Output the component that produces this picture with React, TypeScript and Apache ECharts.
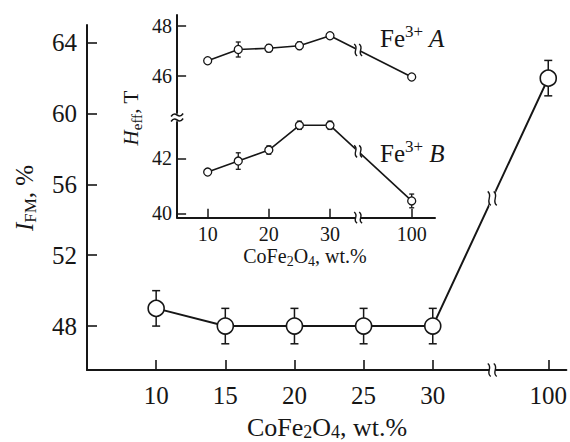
import React, { useEffect, useRef } from 'react';
import * as echarts from 'echarts';

// ---------- data ----------
const mainCategories = [10, 15, 20, 25, 30, 100];
const mainValues = [49, 48, 48, 48, 48, 62];
const mainErrors = [1, 1, 1, 1, 1, 1];
const mainYTicks = [48, 52, 56, 60, 64];

const insetCategories = [10, 15, 20, 25, 30, 100];
const insetXTicks = [10, 20, 30, 100];
const feAValues = [46.6, 47.05, 47.1, 47.2, 47.6, 45.95];
const feAErrors = [0.05, 0.3, 0.15, 0.15, 0.1, 0.1];
const feBValues = [41.5, 41.9, 42.3, 43.2, 43.2, 40.45];
const feBErrors = [0.1, 0.3, 0.15, 0.15, 0.15, 0.25];
const insetUpperTicks = [46, 48];
const insetLowerTicks = [40, 42];

// ---------- broken-axis layout ----------
const MAIN_FAR_POS = 38.35; // axis position of the "100" category (after the break)
const MAIN_BREAK_POS = 34.3;
const INSET_FAR_POS = 43.36;
const INSET_BREAK_POS = 34.6;
const mainPos = (c: number) => (c <= 30 ? c : MAIN_FAR_POS);
const insetPos = (c: number) => (c <= 30 ? c : INSET_FAR_POS);

const INK = '#161616';
const SERIF = "'Liberation Serif', 'Times New Roman', 'DejaVu Serif', serif";

const errorRender = (capHalf: number, lw: number) => (params: any, api: any) => {
  const x = api.value(0);
  const lo = api.value(1);
  const hi = api.value(2);
  const p1 = api.coord([x, lo]);
  const p2 = api.coord([x, hi]);
  const style = { stroke: INK, lineWidth: lw, fill: 'none' };
  return {
    type: 'group',
    children: [
      { type: 'line', shape: { x1: p1[0], y1: p1[1], x2: p2[0], y2: p2[1] }, style },
      { type: 'line', shape: { x1: p1[0] - capHalf, y1: p1[1], x2: p1[0] + capHalf, y2: p1[1] }, style },
      { type: 'line', shape: { x1: p2[0] - capHalf, y1: p2[1], x2: p2[0] + capHalf, y2: p2[1] }, style },
    ],
  };
};

const tok = (size: number, extra: any = {}) => ({
  fontSize: size,
  fontFamily: SERIF,
  fill: INK,
  fontStyle: 'normal',
  ...extra,
});

export default function App() {
  const ref = useRef<HTMLDivElement>(null);

  useEffect(() => {
    if (!ref.current) return;
    const chart = echarts.init(ref.current, undefined, { renderer: 'svg' });

    const axisLine = { show: true, lineStyle: { color: INK, width: 2 } };
    const labelMain = { fontSize: 25, fontFamily: SERIF, color: INK };
    const labelInset = { fontSize: 20, fontFamily: SERIF, color: INK };

    const mainXT = mainCategories.map(mainPos);
    const insetXT = insetXTicks.map(insetPos);
    const mainLabelFmt = (v: number) => {
      const i = mainXT.findIndex((p) => Math.abs(p - v) < 1e-6);
      return i >= 0 ? String(mainCategories[i]) : '';
    };
    const insetLabelFmt = (v: number) => {
      const i = insetXT.findIndex((p) => Math.abs(p - v) < 1e-6);
      return i >= 0 ? String(insetXTicks[i]) : '';
    };

    const option: any = {
      animation: false,
      backgroundColor: '#ffffff',
      grid: [
        { left: 87, right: 3, top: 25, bottom: 72 },
        { left: 177.1, right: 135, top: 15, bottom: 329 },
        { left: 177.1, right: 135, top: 122, bottom: 224.3 },
      ],
      xAxis: [
        {
          type: 'value', gridIndex: 0, min: 5, max: 39.66,
          axisLine,
          axisTick: { show: true, inside: true, length: 10, customValues: mainXT, lineStyle: { color: INK, width: 1.6 } },
          axisLabel: { ...labelMain, margin: 13, customValues: mainXT, formatter: mainLabelFmt },
          splitLine: { show: false },
        },
        { type: 'value', gridIndex: 1, min: 5, max: 47.17, show: false },
        {
          type: 'value', gridIndex: 2, min: 5, max: 47.17,
          axisLine,
          axisTick: { show: true, inside: true, length: 9, customValues: insetXT, lineStyle: { color: INK, width: 1.5 } },
          axisLabel: { ...labelInset, margin: 6, customValues: insetXT, formatter: insetLabelFmt },
          splitLine: { show: false },
        },
      ],
      yAxis: [
        {
          type: 'value', gridIndex: 0, min: 45.52, max: 65,
          axisLine,
          axisTick: { show: true, inside: true, length: 10, customValues: mainYTicks, lineStyle: { color: INK, width: 1.6 } },
          axisLabel: { ...labelMain, margin: 10, customValues: mainYTicks },
          splitLine: { show: false },
        },
        {
          type: 'value', gridIndex: 1, min: 44.51, max: 48.43,
          axisLine,
          axisTick: { show: true, inside: true, length: 9, customValues: insetUpperTicks, lineStyle: { color: INK, width: 1.5 } },
          axisLabel: { ...labelInset, margin: 5, customValues: insetUpperTicks },
          splitLine: { show: false },
        },
        {
          type: 'value', gridIndex: 2, min: 39.84, max: 43.32,
          axisLine,
          axisTick: { show: true, inside: true, length: 9, customValues: insetLowerTicks, lineStyle: { color: INK, width: 1.5 } },
          axisLabel: { ...labelInset, margin: 5, customValues: insetLowerTicks },
          splitLine: { show: false },
        },
      ],
      series: [
        {
          type: 'custom', xAxisIndex: 0, yAxisIndex: 0, z: 1, clip: false,
          encode: { x: 0, y: [1, 2] },
          renderItem: errorRender(4, 1.5),
          data: mainCategories.map((c, i) => [mainPos(c), mainValues[i] - mainErrors[i], mainValues[i] + mainErrors[i]]),
        },
        {
          type: 'line', xAxisIndex: 0, yAxisIndex: 0, z: 3, clip: false,
          symbol: 'circle', symbolSize: 16,
          itemStyle: { color: '#ffffff', borderColor: INK, borderWidth: 1.6 },
          lineStyle: { color: INK, width: 2 },
          data: mainCategories.map((c, i) => [mainPos(c), mainValues[i]]),
        },
        {
          type: 'custom', xAxisIndex: 1, yAxisIndex: 1, z: 1, clip: false,
          encode: { x: 0, y: [1, 2] },
          renderItem: errorRender(2.5, 1.3),
          data: insetCategories.map((c, i) => [insetPos(c), feAValues[i] - feAErrors[i], feAValues[i] + feAErrors[i]]),
        },
        {
          type: 'line', xAxisIndex: 1, yAxisIndex: 1, z: 3, clip: false,
          symbol: 'circle', symbolSize: 8,
          itemStyle: { color: '#ffffff', borderColor: INK, borderWidth: 1.3 },
          lineStyle: { color: INK, width: 1.6 },
          data: insetCategories.map((c, i) => [insetPos(c), feAValues[i]]),
        },
        {
          type: 'custom', xAxisIndex: 2, yAxisIndex: 2, z: 1, clip: false,
          encode: { x: 0, y: [1, 2] },
          renderItem: errorRender(2.5, 1.3),
          data: insetCategories.map((c, i) => [insetPos(c), feBValues[i] - feBErrors[i], feBValues[i] + feBErrors[i]]),
        },
        {
          type: 'line', xAxisIndex: 2, yAxisIndex: 2, z: 3, clip: false,
          symbol: 'circle', symbolSize: 8,
          itemStyle: { color: '#ffffff', borderColor: INK, borderWidth: 1.3 },
          lineStyle: { color: INK, width: 1.6 },
          data: insetCategories.map((c, i) => [insetPos(c), feBValues[i]]),
        },
      ],
    };
    chart.setOption(option);

    // ---- decorations: break marks & titles ----
    const interp = (x0: number, y0: number, x1: number, y1: number, x: number) => y0 + ((x - x0) / (x1 - x0)) * (y1 - y0);
    const px = (grid: number, pt: number[]) => chart.convertToPixel({ gridIndex: grid } as any, pt) as number[];

    const breakMark = (c: number[], h: number, gapW: number) => {
      const [cx, cy] = c;
      const els: any[] = [
        { type: 'rect', z: 100, shape: { x: cx - gapW / 2, y: cy - h / 2 - 1, width: gapW, height: h + 2 }, style: { fill: '#ffffff' } },
      ];
      [-gapW / 2, gapW / 2].forEach((dx) => {
        const x = cx + dx;
        els.push({
          type: 'bezierCurve', z: 101,
          shape: { x1: x - 1.5, y1: cy - h / 2, cpx1: x + 4, cpy1: cy - h / 6, cpx2: x - 4, cpy2: cy + h / 6, x2: x + 1.5, y2: cy + h / 2 },
          style: { stroke: INK, lineWidth: 1.4, fill: 'none' },
        });
      });
      return els;
    };

    const mainAxisBreak = px(0, [MAIN_BREAK_POS, 45.52]);
    const mainLineBreak = px(0, [MAIN_BREAK_POS, interp(30, mainValues[4], MAIN_FAR_POS, mainValues[5], MAIN_BREAK_POS)]);
    const insetAxisBreak = px(2, [INSET_BREAK_POS, 39.84]);
    const insetABreak = px(1, [INSET_BREAK_POS, interp(30, feAValues[4], INSET_FAR_POS, feAValues[5], INSET_BREAK_POS)]);
    const insetBBreak = px(2, [INSET_BREAK_POS, interp(30, feBValues[4], INSET_FAR_POS, feBValues[5], INSET_BREAK_POS)]);
    const yTop = px(1, [5, 44.51]);
    const yBot = px(2, [5, 43.32]);
    const yBreak = [yTop[0], (yTop[1] + yBot[1]) / 2];

    const tilde = (x: number, y: number) => ({
      type: 'bezierCurve', z: 101,
      shape: { x1: x - 6, y1: y + 1.5, cpx1: x - 1, cpx2: x + 1, cpy1: y - 6, cpy2: y + 6, x2: x + 6, y2: y - 1.5 },
      style: { stroke: INK, lineWidth: 1.6, fill: 'none' },
    });

    const graphic: any[] = [
      ...breakMark(mainAxisBreak, 13, 6),
      ...breakMark(mainLineBreak, 14, 6),
      ...breakMark(insetAxisBreak, 11, 5),
      ...breakMark(insetABreak, 12, 5),
      ...breakMark(insetBBreak, 12, 5),
      tilde(yBreak[0], yBreak[1] - 2.5),
      tilde(yBreak[0], yBreak[1] + 2.5),
      {
        type: 'text', z: 110, x: 24, y: 198, rotation: Math.PI / 2,
        style: {
          text: '{i|I}{sub|FM}{n|, %}', align: 'center', verticalAlign: 'middle',
          rich: {
            i: tok(25, { fontStyle: 'italic', lineHeight: 30 }),
            sub: tok(17, { verticalAlign: 'bottom' }),
            n: tok(25, { lineHeight: 30 }),
          },
        },
      },
      {
        type: 'text', z: 110, x: 327, y: 427,
        style: {
          text: '{n|CoFe}{sub|2}{n|O}{sub|4}{n|, wt.%}', align: 'center', verticalAlign: 'middle',
          rich: {
            n: tok(26, { lineHeight: 28 }),
            sub: tok(18, { verticalAlign: 'bottom' }),
          },
        },
      },
      {
        type: 'text', z: 110, x: 305, y: 256,
        style: {
          text: '{n|CoFe}{sub|2}{n|O}{sub|4}{n|, wt.%}', align: 'center', verticalAlign: 'middle',
          rich: {
            n: tok(20, { lineHeight: 24 }),
            sub: tok(14, { verticalAlign: 'bottom' }),
          },
        },
      },
      {
        type: 'text', z: 110, x: 131, y: 118, rotation: Math.PI / 2,
        style: {
          text: '{i|H}{sub|eff}{n|, T}', align: 'center', verticalAlign: 'middle',
          rich: {
            i: tok(21, { fontStyle: 'italic', lineHeight: 26 }),
            sub: tok(15, { verticalAlign: 'bottom' }),
            n: tok(21, { lineHeight: 26 }),
          },
        },
      },
      {
        type: 'text', z: 110, x: 380, y: 38,
        style: {
          text: '{n|Fe}{sup|3+}{i| A}', align: 'left', verticalAlign: 'middle',
          rich: {
            n: tok(25, { lineHeight: 30 }),
            sup: tok(17, { verticalAlign: 'top' }),
            i: tok(25, { fontStyle: 'italic', lineHeight: 30 }),
          },
        },
      },
      {
        type: 'text', z: 110, x: 380, y: 153,
        style: {
          text: '{n|Fe}{sup|3+}{i| B}', align: 'left', verticalAlign: 'middle',
          rich: {
            n: tok(25, { lineHeight: 30 }),
            sup: tok(17, { verticalAlign: 'top' }),
            i: tok(25, { fontStyle: 'italic', lineHeight: 30 }),
          },
        },
      },
    ];
    chart.setOption({ graphic });

    return () => chart.dispose();
  }, []);

  return (
    <div
      ref={ref}
      style={{ position: 'absolute', left: 0, top: 0, width: 570, height: 442, background: '#fff' }}
    />
  );
}
